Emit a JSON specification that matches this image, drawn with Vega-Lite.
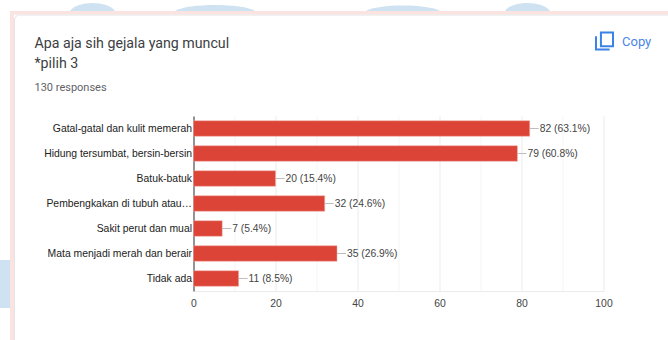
{
  "$schema": "https://vega.github.io/schema/vega-lite/v6.json",
  "width": 410,
  "height": 175,
  "autosize": "none",
  "padding": {"left": 193.5, "top": 116, "right": 64.5, "bottom": 49},
  "background": "#ffffff",
  "title": {
    "text": ["Apa aja sih gejala yang muncul", "*pilih 3"],
    "subtitle": "130 responses",
    "anchor": "start",
    "frame": "group",
    "dx": -159,
    "dy": 112,
    "offset": 22,
    "font": "Roboto",
    "fontSize": 14.2,
    "fontWeight": "normal",
    "color": "#3c4043",
    "lineHeight": 20,
    "subtitleFont": "Roboto",
    "subtitleFontSize": 11,
    "subtitleColor": "#5f6368",
    "subtitlePadding": 11
  },
  "config": {"view": {"stroke": null}},
  "resolve": {"scale": {"x": "independent", "y": "independent"}},
  "layer": [
    {
      "data": {"values": [{}]},
      "layer": [
        {"mark": {"type": "point", "shape": "M-1,0 C-0.7,-0.48 0.7,-0.48 1,0 Z", "size": 2025, "filled": true, "fill": "#cfe2f1", "opacity": 1},
         "encoding": {"x": {"datum": 92.5, "type": "quantitative", "axis": null, "scale": {"domain": [193.5, 603.5], "nice": false, "zero": false}}, "y": {"datum": 11, "type": "quantitative", "axis": null, "scale": {"domain": [116, 291], "reverse": true, "nice": false, "zero": false}}}},
        {"mark": {"type": "point", "shape": "M-1,0 C-0.7,-0.2 0.7,-0.2 1,0 Z", "size": 6400, "filled": true, "fill": "#cfe2f1", "opacity": 1},
         "encoding": {"x": {"datum": 215, "type": "quantitative"}, "y": {"datum": 11, "type": "quantitative"}}},
        {"mark": {"type": "point", "shape": "M-1,0 C-0.7,-0.2 0.7,-0.2 1,0 Z", "size": 5476, "filled": true, "fill": "#cfe2f1", "opacity": 1},
         "encoding": {"x": {"datum": 403, "type": "quantitative"}, "y": {"datum": 11, "type": "quantitative"}}},
        {"mark": {"type": "point", "shape": "M-1,0 C-0.7,-0.48 0.7,-0.48 1,0 Z", "size": 2025, "filled": true, "fill": "#cfe2f1", "opacity": 1},
         "encoding": {"x": {"datum": 527.5, "type": "quantitative"}, "y": {"datum": 11, "type": "quantitative"}}},
        {"mark": {"type": "rect", "fill": "#cfe2f1"},
         "encoding": {"x": {"datum": 0, "type": "quantitative"}, "x2": {"datum": 10}, "y": {"datum": 260, "type": "quantitative"}, "y2": {"datum": 308}}},
        {"mark": {"type": "rect", "fill": "#fbe3e1"},
         "encoding": {"x": {"datum": 10, "type": "quantitative"}, "x2": {"datum": 668}, "y": {"datum": 11, "type": "quantitative"}, "y2": {"datum": 14.5}}},
        {"mark": {"type": "rect", "fill": "#fbe3e1"},
         "encoding": {"x": {"datum": 10, "type": "quantitative"}, "x2": {"datum": 14}, "y": {"datum": 11, "type": "quantitative"}, "y2": {"datum": 340}}},
        {"mark": {"type": "rect", "fillOpacity": 0, "stroke": "#e4e4e4", "strokeWidth": 1, "cornerRadius": 5},
         "encoding": {"x": {"datum": 14.5, "type": "quantitative"}, "x2": {"datum": 690}, "y": {"datum": 15, "type": "quantitative"}, "y2": {"datum": 360}}},
        {"mark": {"type": "point", "shape": "M-0.42,-1 H1 V0.62 H-0.42 Z M-1,-0.55 V1 H0.6", "size": 290, "filled": false, "stroke": "#3b82e8", "strokeWidth": 2, "opacity": 1},
         "encoding": {"x": {"datum": 604.5, "type": "quantitative"}, "y": {"datum": 41, "type": "quantitative"}}},
        {"mark": {"type": "text", "text": "Copy", "font": "Roboto", "fontSize": 13, "fontWeight": "normal", "color": "#4a86e8", "align": "left", "baseline": "middle"},
         "encoding": {"x": {"datum": 622, "type": "quantitative"}, "y": {"datum": 41.5, "type": "quantitative"}}}
      ]
    },
    {
      "data": {"values": [
        {"gejala": "Gatal-gatal dan kulit memerah", "jumlah": 82, "label": "82 (63.1%)"},
        {"gejala": "Hidung tersumbat, bersin-bersin", "jumlah": 79, "label": "79 (60.8%)"},
        {"gejala": "Batuk-batuk", "jumlah": 20, "label": "20 (15.4%)"},
        {"gejala": "Pembengkakan di tubuh atau…", "jumlah": 32, "label": "32 (24.6%)"},
        {"gejala": "Sakit perut dan mual", "jumlah": 7, "label": "7 (5.4%)"},
        {"gejala": "Mata menjadi merah dan berair", "jumlah": 35, "label": "35 (26.9%)"},
        {"gejala": "Tidak ada", "jumlah": 11, "label": "11 (8.5%)"}
      ]},
      "encoding": {
        "y": {
          "field": "gejala",
          "type": "nominal",
          "sort": null,
          "scale": {"paddingInner": 0.38, "paddingOuter": 0.19},
          "axis": {
            "orient": "left",
            "title": null,
            "ticks": false,
            "domainColor": "#333333",
            "domainWidth": 1,
            "labelFont": "Liberation Sans",
            "labelFontSize": 10.4,
            "labelColor": "#222222",
            "labelPadding": 2,
            "labelLimit": 200,
            "grid": false
          }
        },
        "x": {
          "field": "jumlah",
          "type": "quantitative",
          "scale": {"domain": [0, 100], "nice": false},
          "axis": {
            "orient": "bottom",
            "title": null,
            "values": [0, 10, 20, 30, 40, 50, 60, 70, 80, 90, 100],
            "labelExpr": "datum.value % 20 === 0 ? datum.label : ''",
            "ticks": false,
            "domainColor": "#ebebeb",
            "labelFont": "Liberation Sans",
            "labelFontSize": 10.4,
            "labelColor": "#444444",
            "labelPadding": 7,
            "labelFlush": false,
            "labelOverlap": false,
            "grid": true,
            "gridColor": {"expr": "datum.value % 20 === 0 ? '#ebebeb' : '#f5f5f5'"},
            "gridWidth": 1
          }
        }
      },
      "layer": [
        {"mark": {"type": "bar", "color": "#db4437", "stroke": "#f0a9a2", "strokeWidth": 0.5}},
        {"mark": {"type": "rule", "color": "#bdbdbd", "strokeWidth": 1, "x2Offset": 9},
         "encoding": {"x2": {"field": "jumlah"}}},
        {"mark": {"type": "text", "align": "left", "baseline": "middle", "dx": 10, "font": "Liberation Sans", "fontSize": 10.3, "color": "#444444"},
         "encoding": {"text": {"field": "label"}}}
      ]
    }
  ]
}
